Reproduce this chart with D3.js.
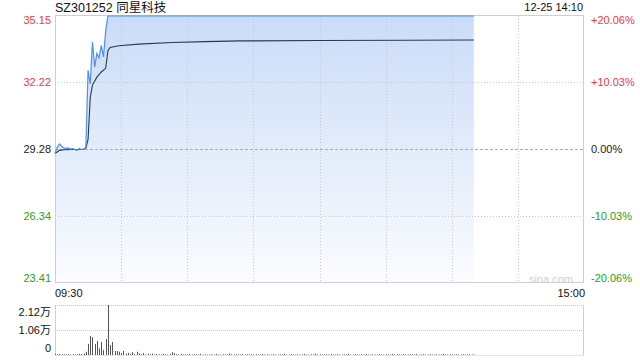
<!DOCTYPE html>
<html>
<head>
<meta charset="utf-8">
<script src="https://cdn.jsdelivr.net/npm/d3@7"></script>
<style>
  html, body { margin: 0; padding: 0; background: #fff; }
  svg { display: block; font-family: "Liberation Sans", Arial, sans-serif; }
</style>
</head>
<body>
<svg id="chart" width="640" height="360"></svg>
<script>
// ---- data ----
const title = "SZ301252 同星科技";
const stamp = "12-25 14:10";
const prevClose = 29.28;
const priceTicks = [35.15, 32.22, 29.28, 26.34, 23.41];
const pctTicks = ["+20.06%", "+10.03%", "0.00%", "-10.03%", "-20.06%"];
const volTicks = [2.12, 1.06, 0];
const volTickLabels = ["2.12万", "1.06万", "0"];
const timeLabels = ["09:30", "15:00"];

// price line (minute index, price)
const priceMinutes = [0, 1, 2, 3, 4, 5, 6, 7, 8, 9, 10, 11, 12, 13, 14, 15, 16, 17, 18, 19, 20, 21, 22, 23, 24, 190];
const priceValues  = [29.09, 29.35, 29.50, 29.40, 29.33, 29.30, 29.33, 29.28, 29.30, 29.26, 29.22, 29.30, 29.26, 29.28, 29.35,
                      32.75, 32.15, 34.00, 32.90, 33.50, 33.30, 33.85, 33.35, 34.50, 35.15, 35.15];

// average price line (minute index, price)
const avgMinutes = [0, 1, 2, 4, 8, 13, 14, 15, 16, 17, 19, 21, 23, 24, 25, 29, 38, 53, 68, 84, 120, 160, 190];
const avgValues  = [29.09, 29.15, 29.22, 29.25, 29.26, 29.27, 29.32, 29.70, 31.55, 32.10, 32.45, 32.68, 32.84, 33.62, 33.76,
                    33.84, 33.91, 33.98, 34.02, 34.05, 34.07, 34.08, 34.09];

// volume per minute (万)
const volumes = [
  0.05,0.03,0.04,0.03,0.03,0.02,0.03,0.02,0.03,0.02,
  0.03,0.05,0.04,0.06,0.14,0.47,0.81,0.76,0.47,0.59,
  0.28,0.55,0.21,0.68,2.12,0.42,0.55,0.17,0.17,0.14,
  0.08,0.17,0.06,0.09,0.05,0.12,0.04,0.14,0.06,0.03,
  0.08,0.02,0.05,0.03,0.06,0.02,0.04,0.03,0.02,0.05,
  0.03,0.02,0.04,0.12,0.08,0.03,0.02,0.05,0.02,0.03,
  0.02,0.04,0.02,0.03,0.02,0.02,0.05,0.02,0.03,0.02,
  0.02,0.03,0.02,0.04,0.02,0.02,0.03,0.02,0.02,0.06,
  0.03,0.02,0.02,0.03,0.02,0.04,0.02,0.02,0.03,0.02,
  0.02,0.03,0.02,0.02,0.04,0.02,0.03,0.02,0.02,0.03,
  0.02,0.02,0.03,0.02,0.05,0.02,0.02,0.03,0.02,0.02,
  0.03,0.02,0.02,0.04,0.02,0.02,0.03,0.02,0.06,0.02,
  0.03,0.02,0.02,0.03,0.02,0.04,0.02,0.02,0.03,0.02,
  0.02,0.03,0.02,0.05,0.02,0.02,0.03,0.02,0.02,0.03,
  0.02,0.04,0.02,0.02,0.03,0.02,0.02,0.03,0.02,0.02,
  0.03,0.02,0.02,0.04,0.02,0.03,0.02,0.02,0.03,0.02,
  0.02,0.03,0.02,0.02,0.04,0.02,0.02,0.03,0.02,0.02,
  0.03,0.02,0.02,0.03,0.02,0.02,0.04,0.02,0.02,0.03,
  0.02,0.02,0.03,0.02,0.02,0.03,0.02,0.02,0.03,0.02,0.02
];
const gridMinutes = [30, 60, 90, 120, 150, 180, 210];

// ---- layout ----
const L = 55, R = 584, T = 16, B = 282;
const VT = 305, VB = 355;
const RED = "#f03a3a", GREEN = "#22a322", BLACK = "#222";
const svg = d3.select("#chart");

const x = d3.scaleLinear().domain([0, 240]).range([L, R]);
const y = d3.scaleLinear().domain([priceTicks[4], priceTicks[0]]).range([B, T]);
const yv = d3.scaleLinear().domain([0, volTicks[0]]).range([VB, VT]);

const defs = svg.append("defs");
const grad = defs.append("linearGradient").attr("id", "fillGrad")
  .attr("x1", 0).attr("y1", 0).attr("x2", 0).attr("y2", 1);
grad.append("stop").attr("offset", "0%").attr("stop-color", "#cadcf8");
grad.append("stop").attr("offset", "55%").attr("stop-color", "#e4edfb");
grad.append("stop").attr("offset", "100%").attr("stop-color", "#fbfcff");

// title
svg.append("text").attr("x", L).attr("y", 12).attr("font-size", 12.5).attr("fill", "#111")
  .attr("font-family", "'Liberation Sans', 'Noto Sans CJK SC', sans-serif").text(title);
svg.append("text").attr("x", 583).attr("y", 11).attr("font-size", 11).attr("fill", "#111")
  .attr("text-anchor", "end").text(stamp);

// area under price
const pts = priceMinutes.map((m, i) => [m, priceValues[i]]);
svg.append("path").datum(pts)
  .attr("fill", "url(#fillGrad)")
  .attr("d", d3.area().x(d => x(d[0])).y0(B).y1(d => y(d[1])));

// gridlines
svg.append("g").selectAll("line").data(gridMinutes).join("line")
  .attr("x1", d => Math.round(x(d)) + 0.5).attr("x2", d => Math.round(x(d)) + 0.5)
  .attr("y1", T).attr("y2", B)
  .attr("stroke", "#c8c8c8").attr("stroke-dasharray", "1,2");
svg.append("g").selectAll("line").data([priceTicks[1], priceTicks[3]]).join("line")
  .attr("x1", L).attr("x2", R)
  .attr("y1", d => Math.round(y(d)) + 0.5).attr("y2", d => Math.round(y(d)) + 0.5)
  .attr("stroke", "#c8c8c8").attr("stroke-dasharray", "1,2");
svg.append("line")
  .attr("x1", L).attr("x2", R)
  .attr("y1", Math.round(y(prevClose)) + 0.5).attr("y2", Math.round(y(prevClose)) + 0.5)
  .attr("stroke", "#aaa").attr("stroke-dasharray", "3,2");

// border
svg.append("rect").attr("x", L + 0.5).attr("y", T - 0.5).attr("width", R - L - 1).attr("height", B - T + 1)
  .attr("fill", "none").attr("stroke", "#cfcfcf");

// avg line
svg.append("path").datum(avgMinutes.map((m, i) => [m, avgValues[i]]))
  .attr("fill", "none").attr("stroke", "#2c3850").attr("stroke-width", 1.1)
  .attr("d", d3.line().x(d => x(d[0])).y(d => y(d[1])));
// price line
svg.append("path").datum(pts)
  .attr("fill", "none").attr("stroke", "#4d8ff0").attr("stroke-width", 1.2)
  .attr("d", d3.line().x(d => x(d[0])).y(d => y(d[1])));

// left price labels
const lblY = (v, i) => {
  const yy = y(v);
  if (i === 0) return yy + 8;
  if (i === priceTicks.length - 1) return yy;
  return yy + 4;
};
const colorFor = v => v > prevClose ? RED : (v < prevClose ? GREEN : BLACK);
svg.append("g").selectAll("text").data(priceTicks).join("text")
  .attr("x", 51).attr("y", (d, i) => lblY(d, i)).attr("text-anchor", "end")
  .attr("font-size", 11).attr("fill", d => colorFor(d)).text(d => d.toFixed(2));
svg.append("g").selectAll("text").data(pctTicks).join("text")
  .attr("x", 591).attr("y", (d, i) => lblY(priceTicks[i], i))
  .attr("font-size", 11).attr("fill", (d, i) => colorFor(priceTicks[i])).text(d => d);

// watermark
svg.append("text").attr("x", 573).attr("y", 283).attr("text-anchor", "end")
  .attr("font-size", 11).attr("fill", "#d0d0d0").text("sina.com");

// time labels
svg.append("text").attr("x", L).attr("y", 297).attr("font-size", 11).attr("fill", "#111").text(timeLabels[0]);
svg.append("text").attr("x", R + 1).attr("y", 297).attr("font-size", 11).attr("fill", "#111")
  .attr("text-anchor", "end").text(timeLabels[1]);

// volume panel
svg.append("g").selectAll("line").data([volTicks[0], volTicks[1]]).join("line")
  .attr("x1", L).attr("x2", R)
  .attr("y1", d => Math.round(yv(d)) + 0.5).attr("y2", d => Math.round(yv(d)) + 0.5)
  .attr("stroke", "#c8c8c8").attr("stroke-dasharray", "1,1");
svg.append("line").attr("x1", L + 0.5).attr("x2", L + 0.5).attr("y1", VT).attr("y2", VB + 1).attr("stroke", "#cfcfcf");
svg.append("line").attr("x1", R - 0.5).attr("x2", R - 0.5).attr("y1", VT).attr("y2", VB + 1).attr("stroke", "#cfcfcf");
svg.append("line").attr("x1", L).attr("x2", R).attr("y1", VB + 0.5).attr("y2", VB + 0.5).attr("stroke", "#e6e6e6");

svg.append("g").selectAll("line").data(volumes).join("line")
  .attr("x1", (d, i) => Math.round(x(i)) + 0.5).attr("x2", (d, i) => Math.round(x(i)) + 0.5)
  .attr("y1", VB).attr("y2", d => yv(d))
  .attr("stroke", "#555").attr("stroke-width", 1);

const vLblY = [VT + 11, yv(volTicks[1]) + 4, VB - 3];
svg.append("g").selectAll("text").data(volTickLabels).join("text")
  .attr("x", 51).attr("y", (d, i) => vLblY[i]).attr("text-anchor", "end")
  .attr("font-family", "'Liberation Sans', 'Noto Sans CJK SC', sans-serif")
  .attr("font-size", 11).attr("fill", "#111").text(d => d);
</script>
</body>
</html>
